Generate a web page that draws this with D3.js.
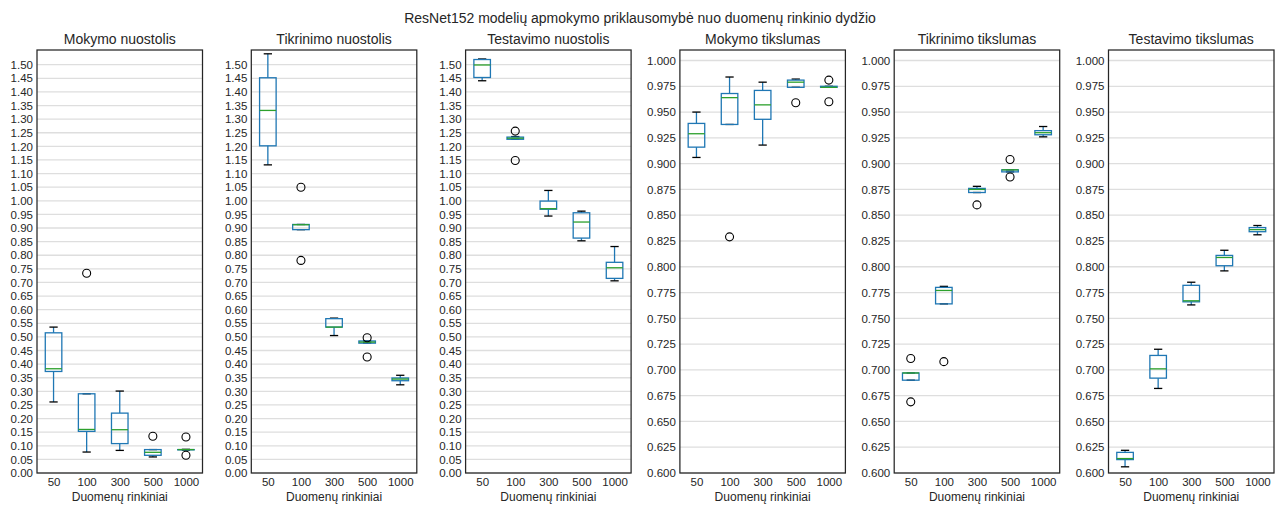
<!DOCTYPE html>
<html>
<head>
<meta charset="utf-8">
<script src="https://cdn.jsdelivr.net/npm/d3@7"></script>
<style>
  body { margin: 0; background: #fff; }
  text { font-family: "Liberation Sans", Arial, sans-serif; fill: #262626; }
</style>
</head>
<body>
<svg id="chart" width="1282" height="505"></svg>
<script>
// categories and panel titles
var categories = ["50", "100", "300", "500", "1000"];
var panelTitles = ["Mokymo nuostolis", "Tikrinimo nuostolis", "Testavimo nuostolis",
                   "Mokymo tikslumas", "Tikrinimo tikslumas", "Testavimo tikslumas"];
var mainTitle = "ResNet152 modelių apmokymo priklausomybė nuo duomenų rinkinio dydžio";
var xTitle = "Duomenų rinkiniai";

// box statistics, one row per panel, one value per category
var whiskLo = [
  [0.261, 0.077, 0.083, 0.059, 0.084],
  [1.132, 0.894, 0.505, 0.478, 0.324],
  [1.441, 1.226, 0.944, 0.853, 0.706],
  [0.906, 0.938, 0.918, 0.974, 0.974],
  [0.690, 0.764, 0.872, 0.892, 0.926],
  [0.606, 0.682, 0.763, 0.796, 0.831]
];
var q1 = [
  [0.373, 0.153, 0.108, 0.065, 0.085],
  [1.202, 0.894, 0.536, 0.477, 0.339],
  [1.453, 1.226, 0.969, 0.863, 0.715],
  [0.916, 0.938, 0.943, 0.974, 0.974],
  [0.690, 0.764, 0.872, 0.892, 0.928],
  [0.613, 0.692, 0.766, 0.801, 0.834]
];
var medians = [
  [0.383, 0.160, 0.159, 0.076, 0.086],
  [1.332, 0.912, 0.536, 0.481, 0.345],
  [1.499, 1.230, 0.971, 0.922, 0.754],
  [0.929, 0.964, 0.957, 0.979, 0.974],
  [0.697, 0.777, 0.875, 0.894, 0.930],
  [0.614, 0.701, 0.767, 0.809, 0.836]
];
var q3 = [
  [0.515, 0.291, 0.220, 0.086, 0.086],
  [1.452, 0.913, 0.567, 0.485, 0.349],
  [1.519, 1.234, 0.999, 0.956, 0.774],
  [0.939, 0.968, 0.971, 0.981, 0.975],
  [0.697, 0.780, 0.876, 0.894, 0.932],
  [0.620, 0.714, 0.782, 0.811, 0.838]
];
var whiskHi = [
  [0.536, 0.291, 0.301, 0.086, 0.087],
  [1.540, 0.913, 0.569, 0.485, 0.359],
  [1.521, 1.236, 1.038, 0.962, 0.832],
  [0.950, 0.984, 0.979, 0.982, 0.975],
  [0.697, 0.781, 0.878, 0.894, 0.936],
  [0.622, 0.720, 0.785, 0.816, 0.840]
];
var fliers = [
  [[], [0.734], [], [0.135], [0.132, 0.065]],
  [[], [1.050, 0.781], [], [0.497, 0.426], []],
  [[], [1.256, 1.148], [], [], []],
  [[], [0.829], [], [0.959], [0.981, 0.960]],
  [[0.711, 0.669], [0.708], [0.860], [0.904, 0.887], []],
  [[], [], [], [], []]
];

// tick labels
var lossTicks = d3.range(0, 31).map(function(i) { return i * 0.05; });
var accTicks = d3.range(0, 17).map(function(i) { return 0.6 + i * 0.025; });

var svg = d3.select("#chart");
var top0 = 50, bottom0 = 473, panelW = 165.5, step = 214.3, left0 = 37;
var boxColor = "#1f77b4", medColor = "#2ca02c";

svg.append("text")
  .attr("x", 640).attr("y", 23)
  .attr("text-anchor", "middle")
  .style("font-size", "14px")
  .text(mainTitle);

panelTitles.forEach(function(title, p) {
  var isLoss = p < 3;
  var left = left0 + p * step;
  var g = svg.append("g").attr("transform", "translate(" + left + ",0)");

  var x = d3.scaleLinear().domain([0.5, 5.5]).range([0, panelW]);
  var y = d3.scaleLinear()
    .domain(isLoss ? [0, 1.554] : [0.6, 1.0102])
    .range([bottom0, top0]);
  var ticks = isLoss ? lossTicks : accTicks;

  // grid
  g.append("g").selectAll("line")
    .data(ticks).enter().append("line")
      .attr("x1", 0).attr("x2", panelW)
      .attr("y1", function(d) { return y(d); })
      .attr("y2", function(d) { return y(d); })
      .attr("stroke", "#dedede")
      .attr("stroke-width", 1.3);

  // y axis
  var yAxis = d3.axisLeft(y).tickValues(ticks)
    .tickFormat(d3.format(isLoss ? ".2f" : ".3f"))
    .tickSize(0).tickPadding(4);
  var ya = g.append("g").call(yAxis);
  ya.select(".domain").remove();
  ya.selectAll("text").style("font-size", "11.5px").attr("fill", "#262626");

  // x axis
  var xAxis = d3.axisBottom(x).tickValues([1, 2, 3, 4, 5])
    .tickFormat(function(d) { return categories[d - 1]; })
    .tickSize(0).tickPadding(5);
  var xa = g.append("g").attr("transform", "translate(0," + bottom0 + ")").call(xAxis);
  xa.select(".domain").remove();
  xa.selectAll("text").style("font-size", "11.5px").attr("fill", "#262626");

  g.append("text")
    .attr("x", panelW / 2).attr("y", 501)
    .attr("text-anchor", "middle")
    .style("font-size", "12px")
    .text(xTitle);

  g.append("text")
    .attr("x", panelW / 2).attr("y", 44)
    .attr("text-anchor", "middle")
    .style("font-size", "14px")
    .text(title);

  var boxes = g.append("g");
  var bw = x(1.25) - x(1), cw = x(1.125) - x(1);

  categories.forEach(function(c, i) {
    var cx = x(i + 1);
    // whiskers
    boxes.append("line")
      .attr("x1", cx).attr("x2", cx)
      .attr("y1", y(q3[p][i])).attr("y2", y(whiskHi[p][i]))
      .attr("stroke", boxColor).attr("stroke-width", 1.3);
    boxes.append("line")
      .attr("x1", cx).attr("x2", cx)
      .attr("y1", y(q1[p][i])).attr("y2", y(whiskLo[p][i]))
      .attr("stroke", boxColor).attr("stroke-width", 1.3);
    // caps
    [whiskHi[p][i], whiskLo[p][i]].forEach(function(v) {
      boxes.append("line")
        .attr("x1", cx - cw).attr("x2", cx + cw)
        .attr("y1", y(v)).attr("y2", y(v))
        .attr("stroke", "#000").attr("stroke-width", 1.3);
    });
    // box
    boxes.append("rect")
      .attr("x", cx - bw).attr("width", 2 * bw)
      .attr("y", y(q3[p][i]))
      .attr("height", Math.max(0, y(q1[p][i]) - y(q3[p][i])))
      .attr("fill", "none")
      .attr("stroke", boxColor).attr("stroke-width", 1.3);
    // median
    boxes.append("line")
      .attr("x1", cx - bw).attr("x2", cx + bw)
      .attr("y1", y(medians[p][i])).attr("y2", y(medians[p][i]))
      .attr("stroke", medColor).attr("stroke-width", 1.3);
    // fliers
    boxes.selectAll(null)
      .data(fliers[p][i]).enter().append("circle")
        .attr("cx", cx).attr("cy", function(d) { return y(d); })
        .attr("r", 4)
        .attr("fill", "none")
        .attr("stroke", "#000").attr("stroke-width", 1.1);
  });

  // frame
  g.append("rect")
    .attr("x", 0).attr("y", top0)
    .attr("width", panelW).attr("height", bottom0 - top0)
    .attr("fill", "none")
    .attr("stroke", "#262626").attr("stroke-width", 1.25);
});
</script>
</body>
</html>
